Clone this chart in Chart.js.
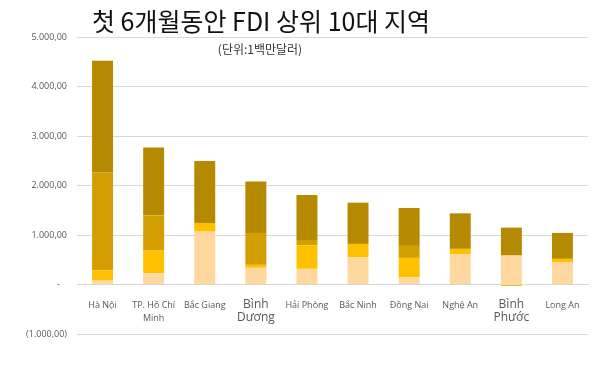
<!DOCTYPE html>
<html>
<head>
<meta charset="utf-8">
<script src="https://cdn.jsdelivr.net/npm/chart.js@4"></script>
<style>
  html, body { margin: 0; padding: 0; background: #fff; }
  #wrap { width: 600px; height: 381px; position: relative; }
</style>
</head>
<body>
<div id="wrap"><canvas id="chart" width="600" height="381"></canvas></div>
<script>
// datos (millones USD)
const regions = ['Hà Nội', ['TP. Hồ Chí', 'Minh'], 'Bắc Giang', ['Bình', 'Dương'], 'Hải Phòng',
                 'Bắc Ninh', 'Đồng Nai', 'Nghệ An', ['Bình', 'Phước'], 'Long An'];
const peach  = [80, 228, 1068, 337, 317, 550, 147, 611, 585, 444];
const yellow = [208, 457, 176, 60, 476, 270, 391, 109, -30, 74];
const mid    = [1976, 712, 0, 645, 108, 0, 242, 0, 0, 0];
const dark   = [2258, 1371, 1249, 1041, 907, 833, 766, 718, 564, 524];
const bigLabels = [3, 8];

const titleText = '첫 6개월동안 FDI 상위 10대 지역';
const subText = '(단위:1백만달러)';

function fmt(v) {
    if (v === 0) return '-   ';
    let s = Math.abs(v).toFixed(2).replace('.', ',');
    let [ent, dec] = s.split(',');
    ent = ent.replace(/\B(?=(\d{3})+(?!\d))/g, '.');
    s = ent + ',' + dec;
    return v < 0 ? '(' + s + ')' : s;
}

// titulo encima del grafico
const titlePlugin = {
    id: 'titulos',
    afterDraw(chart) {
        const ctx = chart.ctx;
        ctx.save();
        ctx.fillStyle = '#111';
        ctx.textAlign = 'center';
        ctx.textBaseline = 'middle';
        ctx.font = '25px "Noto Sans CJK KR"';
        ctx.fillText(titleText, 261, 21);
        ctx.fillStyle = '#333';
        ctx.font = '12px "Noto Sans CJK KR"';
        ctx.fillText(subText, 260, 49);
        ctx.restore();
    }
};

const ctx = document.getElementById('chart').getContext('2d');
new Chart(ctx, {
    type: 'bar',
    data: {
        labels: regions,
        datasets: [
            { data: peach,  backgroundColor: '#FFD8A0' },
            { data: yellow, backgroundColor: '#FFC000' },
            { data: mid,    backgroundColor: '#D29E00' },
            { data: dark,   backgroundColor: '#B58900' }
        ]
    },
    options: {
        responsive: false,
        animation: false,
        layout: { padding: { top: 37, bottom: 47, right: 12, left: 0 } },
        datasets: { bar: { categoryPercentage: 1, barPercentage: 0.41 } },
        plugins: { legend: { display: false }, tooltip: { enabled: false } },
        scales: {
            x: {
                stacked: true,
                position: { y: 0 },
                grid: { display: false },
                border: { color: '#D9D9D9' },
                ticks: {
                    color: '#595959',
                    padding: 6,
                    maxRotation: 0,
                    autoSkip: false,
                    font: c => bigLabels.includes(c.index)
                        ? { family: 'Open Sans', size: 12, lineHeight: 1.05 }
                        : { family: 'Open Sans', size: 9, lineHeight: 1.45 }
                }
            },
            y: {
                stacked: true,
                min: -1000,
                max: 5000,
                afterFit: s => { s.width = 77; },
                grid: { color: '#D9D9D9', drawTicks: false },
                border: { display: false },
                ticks: {
                    stepSize: 1000,
                    color: '#595959',
                    padding: 10,
                    font: { family: 'Open Sans', size: 9 },
                    callback: v => fmt(v)
                }
            }
        }
    },
    plugins: [titlePlugin]
});
</script>
</body>
</html>
